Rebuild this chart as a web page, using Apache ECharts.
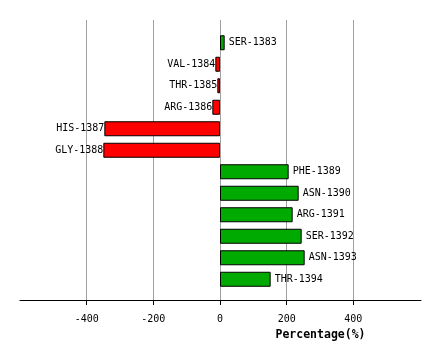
<!DOCTYPE html>
<html>
<head>
<meta charset="utf-8">
<script src="https://cdn.jsdelivr.net/npm/echarts@6/dist/echarts.min.js"></script>
<style>html,body{margin:0;padding:0;background:#fff}#c{width:440px;height:360px}</style>
</head>
<body>
<div id="c"></div>
<script>
var categories = ['SER-1383','VAL-1384','THR-1385','ARG-1386','HIS-1387','GLY-1388','PHE-1389','ASN-1390','ARG-1391','SER-1392','ASN-1393','THR-1394'];
var values = [14, -14, -8, -23, -347, -350, 206, 236, 218, 245, 254, 152];
var xTicks = [-400, -200, 0, 200, 400];
var axisName = 'Percentage(%)';

var FONT = 'DejaVu Sans Mono';
var chart = echarts.init(document.getElementById('c'), null, {renderer: 'canvas'});
var data = values.map(function (v) {
  var pos = v >= 0;
  return {
    value: v,
    itemStyle: {color: pos ? '#00aa00' : '#ff0000'},
    label: {position: pos ? 'right' : 'left', distance: pos ? 4 : 0}
  };
});
chart.setOption({
  animation: false,
  backgroundColor: '#ffffff',
  grid: [
    {left: 20, width: 401, top: 20, height: 280},
    {left: 20, width: 401, top: 32, height: 258}
  ],
  xAxis: [
    {
      gridIndex: 0, type: 'value', min: -600, max: 603, interval: 200,
      axisLine: {show: true, lineStyle: {color: '#000', width: 1}},
      axisTick: {show: true, length: 5, lineStyle: {color: '#000'},
        customValues: xTicks},
      axisLabel: {show: true, margin: 14, color: '#000', fontFamily: FONT, fontSize: 10,
        customValues: xTicks,
        formatter: function (v) { return xTicks.indexOf(v) >= 0 ? String(v) : ''; }},
      splitLine: {show: true, lineStyle: {color: '#a0a0a0', width: 1}},
      name: axisName, nameLocation: 'middle', nameGap: 28,
      nameTextStyle: {fontFamily: FONT, fontWeight: 'bold', fontSize: 11.5, color: '#000', padding: [0, 0, 0, 200]}
    },
    {
      gridIndex: 1, type: 'value', min: -600, max: 603, show: false
    }
  ],
  yAxis: [
    {gridIndex: 0, type: 'value', show: false},
    {gridIndex: 1, type: 'category', data: categories, inverse: true, show: false}
  ],
  series: [{
    type: 'bar', xAxisIndex: 1, yAxisIndex: 1,
    data: data, barWidth: 15,
    itemStyle: {borderColor: '#000', borderWidth: 1},
    label: {show: true, formatter: function (p) { return categories[p.dataIndex]; },
      color: '#000', fontFamily: FONT, fontSize: 10}
  }]
});
</script>
</body>
</html>
